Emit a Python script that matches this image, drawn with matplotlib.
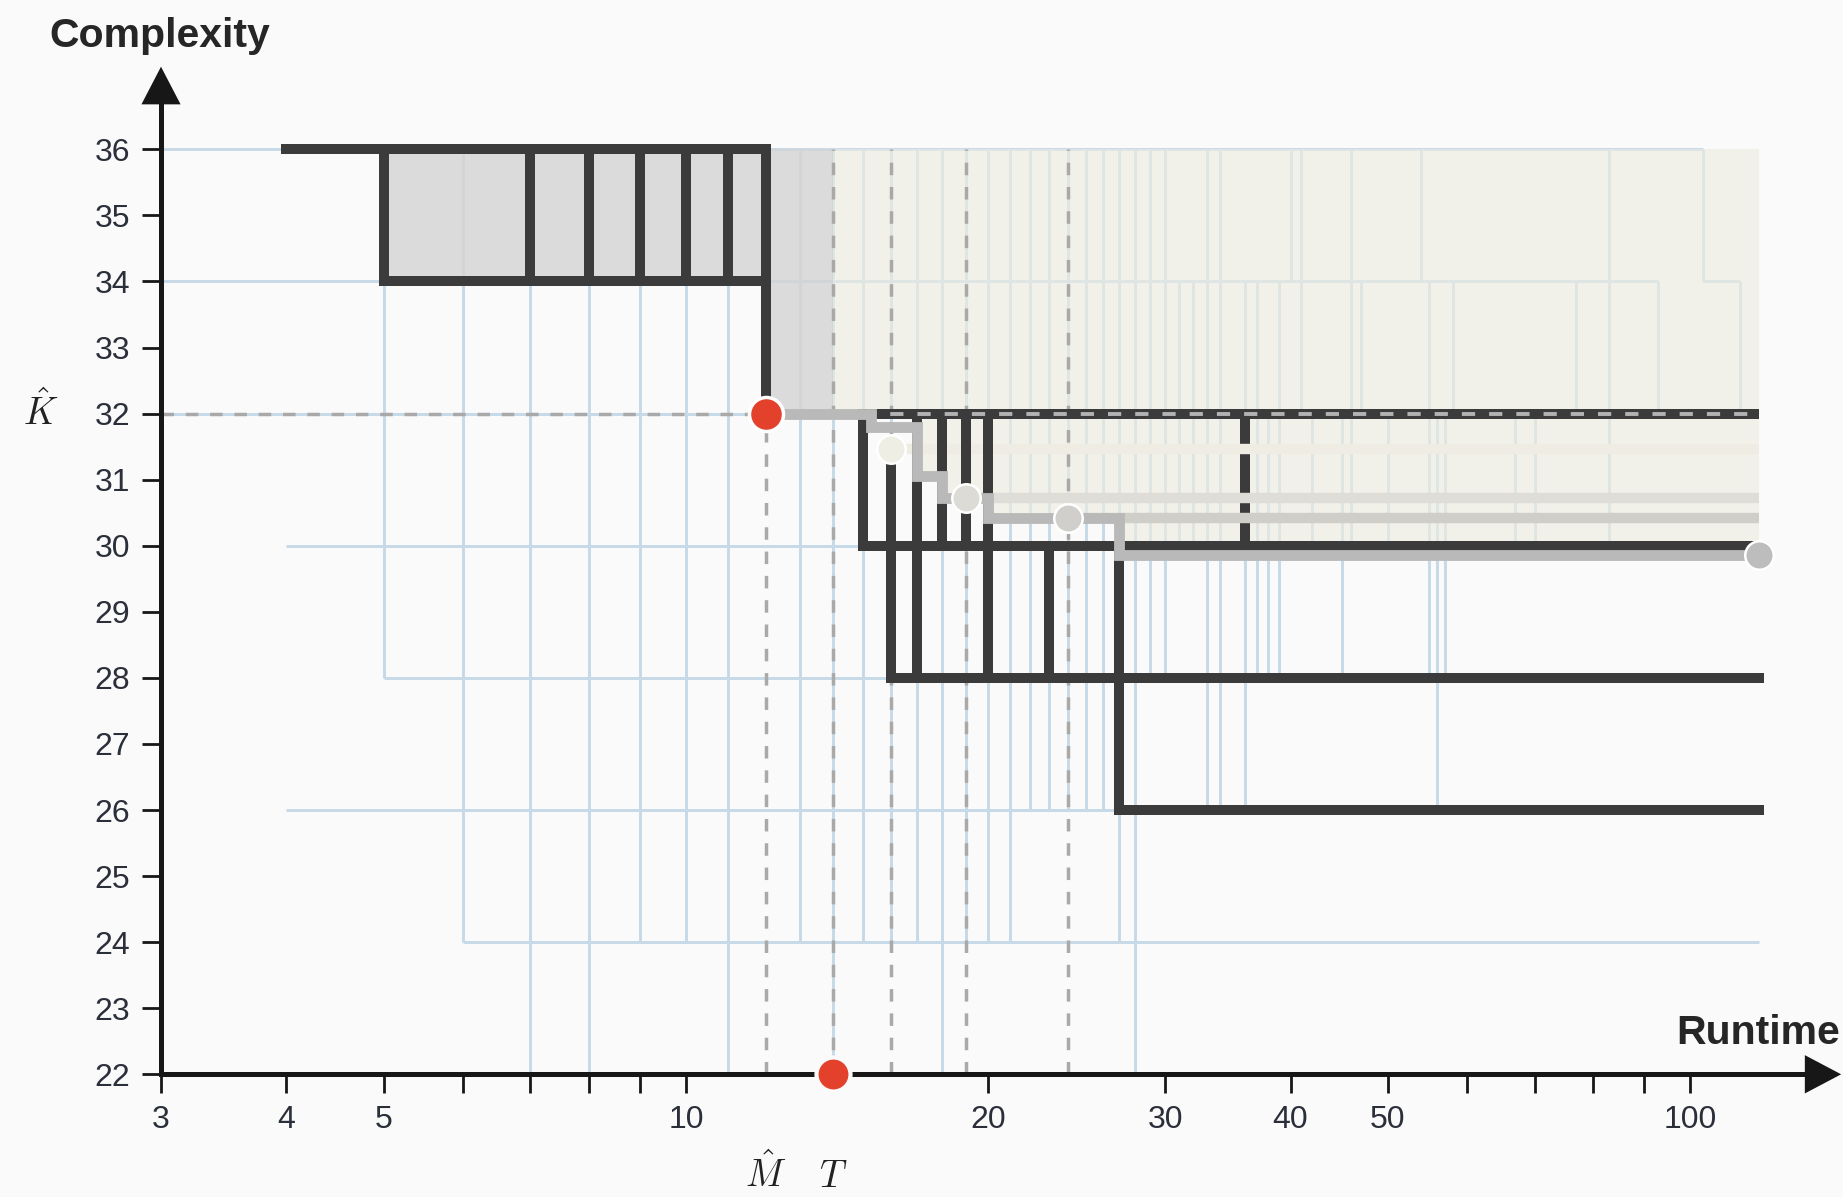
import matplotlib
matplotlib.use('Agg')
import matplotlib.pyplot as plt
import matplotlib.transforms as mtransforms
from matplotlib.patches import Polygon
from matplotlib.ticker import NullLocator

# ---------------------------------------------------------------------------
# Data
# ---------------------------------------------------------------------------

M_HAT = 12          # runtime of the chosen model
T_BUDGET = 14       # runtime budget T
K_HAT = 32          # complexity of the chosen model
X_END = 117         # right end of the explored region

# light-blue lattice, horizontal pieces: y, from x, to x
GRID_H_Y = [36, 36, 34, 34, 34, 32, 30, 28, 26, 24]
GRID_H_X0 = [3, 12, 3, 12, 103, 3, 4, 5, 4, 6]
GRID_H_X1 = [4, 103, 5, 93, 112, 12, 15, 16, 27, 117]

# light-blue lattice, vertical pieces: x, top y, bottom y
GRID_V_X = [5, 6, 7, 8, 9, 10, 11, 13, 14, 15, 16, 17, 18, 19, 20, 21, 22, 23,
            24, 25, 26, 27, 28, 29, 30, 31, 32, 33, 34, 36, 37, 38, 39, 40, 41,
            42, 45, 46, 47, 50, 54, 55, 56, 57, 58, 67, 70, 77, 83, 93, 103, 112]
GRID_V_TOP = [34, 36, 34, 34, 34, 34, 34, 36, 36, 36, 36, 36, 36, 36, 36, 36, 36, 36,
              36, 36, 36, 36, 36, 36, 36, 34, 34, 36, 36, 34, 34, 32, 34, 36, 36,
              32, 32, 36, 34, 32, 36, 34, 32, 32, 34, 32, 32, 34, 36, 34, 36, 34]
GRID_V_BOT = [28, 24, 22, 22, 24, 24, 22, 24, 22, 24, 24, 24, 22, 24, 24, 24, 26, 26,
              26, 26, 26, 24, 22, 28, 28, 30, 30, 26, 26, 26, 28, 28, 28, 34, 32,
              30, 28, 30, 32, 30, 34, 28, 26, 28, 32, 30, 30, 32, 30, 32, 34, 32]

# dark frontier lines
DARK_H_Y = [36, 34, 30, 28, 26]
DARK_H_X0 = [4, 5, 15, 16, 27]
DARK_H_X1 = [12, 12, 117, 117, 117]
DARK_V_X = [5, 7, 8, 9, 10, 11, 12, 15, 16, 17, 18, 19, 20, 23, 27]
DARK_V_TOP = [36, 36, 36, 36, 36, 36, 36, 32, 31.47, 32, 32, 32, 32, 30, 30]
DARK_V_BOT = [34, 34, 34, 34, 34, 34, 32, 30, 28, 28, 30, 30, 28, 28, 26]
DARK_DASH_H = (32, 15, 117)   # y, x0, x1
DARK_BACK_V = (36, 32, 30)    # x, y0, y1 (lies under the bands)

# grey dashed guides
GUIDE_X = [12, 14, 16, 19, 24]
GUIDE_TOP = [32, 36, 36, 36, 36]

# shaded regions (step boundaries, top is 36)
GRAY_X = [5, 12, 14]
GRAY_LOW = [34, 32, 32]
BEIGE_X = [14, 17, 18, 20, 27, 117]
BEIGE_LOW = [32, 31.05, 30.72, 30.42, 29.86, 29.86]

# grey search path and its points
PATH_X = [12, 15.3, 15.3, 17, 17, 18, 18, 20, 20, 27, 27, 117]
PATH_Y = [32, 32, 31.8, 31.8, 31.05, 31.05, 30.72, 30.72, 30.42, 30.42, 29.86, 29.86]
DOT_X = [16, 19, 24, 117]
DOT_Y = [31.47, 30.72, 30.42, 29.86]
DOT_COLORS = ['#efeee4', '#dcdbd6', '#d0cfcb', '#bdbdbd']
BAND_COLORS = ['#efede3', '#dfddd7', '#d0cec9']

Y_TICKS = list(range(22, 37))
X_TICKS = [3, 4, 5, 6, 7, 8, 9, 10, 20, 30, 40, 50, 60, 70, 80, 90, 100]
X_TICK_LABELS = ['3', '4', '5', '', '', '', '', '10', '20', '30', '40', '50',
                 '', '', '', '', '100']

# ---------------------------------------------------------------------------
# Style
# ---------------------------------------------------------------------------

BG = '#fafafa'
BLUE = '#c6d9e7'
DARK = '#3b3b3b'
PATH_GRAY = '#b9b9b9'
GUIDE_GRAY = '#a9a9a9'
RED = '#e4412d'
AXIS = '#171717'
LABEL = '#2b2f3a'

plt.rcParams['font.family'] = ['Liberation Sans', 'DejaVu Sans']
plt.rcParams['mathtext.fontset'] = 'cm'

fig = plt.figure(figsize=(18.43, 11.97), dpi=100, facecolor=BG)
ax = fig.add_axes([0.08736, 0.00315, 0.91264, 0.98253])
ax.set_facecolor(BG)
ax.set_xscale('log')
ax.set_xlim(3, 142)
ax.set_ylim(20.2, 38.0)

# lattice
ax.hlines(GRID_H_Y, GRID_H_X0, GRID_H_X1, colors=BLUE, lw=2.1, zorder=1)
ax.vlines(GRID_V_X, GRID_V_BOT, GRID_V_TOP, colors=BLUE, lw=2.1, zorder=1)

# shaded regions
ax.fill_between(GRAY_X, GRAY_LOW, 36, step='post', color='#d4d4d4', alpha=0.8,
                lw=0, zorder=2)
ax.fill_between(BEIGE_X, BEIGE_LOW, 36, step='post', color='#eeede0', alpha=0.62,
                lw=0, zorder=2)

# dark line that sits under the bands
ax.vlines(DARK_BACK_V[0], DARK_BACK_V[2], DARK_BACK_V[1], colors=DARK, lw=7.2,
          zorder=2.5)

# faint bands from the intermediate points
ax.hlines(DOT_Y[:3], DOT_X[:3], X_END, colors=BAND_COLORS, lw=7.5, zorder=3)

# dashed guides
dash = (0, (3.6, 3.4))
ax.vlines(GUIDE_X, 22, GUIDE_TOP, colors=GUIDE_GRAY, lw=2.5, linestyles=[dash],
          zorder=4)
ax.hlines(K_HAT, 3, M_HAT, colors=GUIDE_GRAY, lw=2.5, linestyles=[dash], zorder=4)

# dark frontier
ax.hlines(DARK_H_Y, DARK_H_X0, DARK_H_X1, colors=DARK, lw=7.2,
          capstyle='projecting', zorder=5)
ax.vlines(DARK_V_X, DARK_V_BOT, DARK_V_TOP, colors=DARK, lw=7.2,
          capstyle='projecting', zorder=5)
ax.hlines(DARK_DASH_H[0], DARK_DASH_H[1], DARK_DASH_H[2], colors=DARK, lw=7.2, zorder=5)
ax.hlines(DARK_DASH_H[0], DARK_DASH_H[1], DARK_DASH_H[2], colors='#b3b3b3', lw=2.8,
          linestyles=[(0, (3.4, 3.6))], zorder=6)

# search path and points
ax.plot(PATH_X, PATH_Y, color=PATH_GRAY, lw=7.8, solid_joinstyle='miter', zorder=7)
for x, y, c in zip(DOT_X, DOT_Y, DOT_COLORS):
    ax.plot(x, y, 'o', ms=20.5, mfc=c, mec='white', mew=1.8, zorder=8, clip_on=False)
ax.plot(M_HAT, K_HAT, 'o', ms=24.5, mfc=RED, mec='white', mew=2.5, zorder=10)
ax.plot(T_BUDGET, 22, 'o', ms=24.5, mfc=RED, mec=BG, mew=3, zorder=10, clip_on=False)

# axes with arrowheads
for side in ('top', 'right'):
    ax.spines[side].set_visible(False)
ax.spines['bottom'].set_position(('data', 22))
ax.spines['left'].set_bounds(22, 36.7)
ax.spines['bottom'].set_bounds(3, 130.1)
for side in ('left', 'bottom'):
    ax.spines[side].set_linewidth(3.6)
    ax.spines[side].set_color(AXIS)
    ax.spines[side].set_capstyle('projecting')
    ax.spines[side].set_zorder(9)

ax.add_patch(Polygon([(3 * 10 ** -0.0195, 36.68), (3 * 10 ** 0.0195, 36.68), (3, 37.25)],
                     closed=True, color=AXIS, lw=0, zorder=9, clip_on=False))
ax.add_patch(Polygon([(130.1, 21.71), (130.1, 22.29), (141.4, 22)],
                     closed=True, color=AXIS, lw=0, zorder=9, clip_on=False))

ax.set_yticks(Y_TICKS)
ax.set_xticks(X_TICKS)
ax.set_xticklabels(X_TICK_LABELS)
ax.xaxis.set_minor_locator(NullLocator())
ax.tick_params(axis='both', which='major', direction='out', length=14, width=2,
               color=AXIS, labelsize=23, labelcolor=LABEL, pad=8)

# labels
fig.text(0.0266, 0.9607, 'Complexity', fontsize=29.5, fontweight='bold',
         ha='left', va='baseline', color='#262626')
fig.text(0.9984, 0.1279, 'Runtime', fontsize=29.5, fontweight='bold',
         ha='right', va='baseline', color='#262626')

trans = mtransforms.blended_transform_factory(fig.transFigure, ax.transData)
ax.text(0.0222, K_HAT - 0.18, r'$\hat{K}$', transform=trans, fontsize=27,
        ha='center', va='baseline', color='#222222', clip_on=False)
ax.text(M_HAT, 20.29, r'$\hat{M}$', fontsize=27, ha='center', va='baseline',
        color='#222222', clip_on=False)
ax.text(T_BUDGET, 20.29, r'$T$', fontsize=27, ha='center', va='baseline',
        color='#222222', clip_on=False)

fig.savefig('out.png', dpi=100, facecolor=BG)
